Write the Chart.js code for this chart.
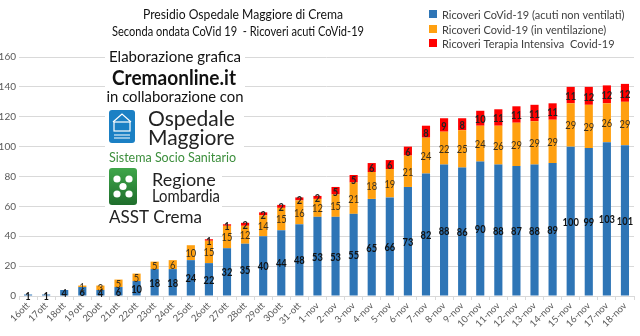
<!DOCTYPE html>
<html><head><meta charset="utf-8">
<script src="https://cdn.jsdelivr.net/npm/chart.js@4"></script>
<style>html,body{margin:0;padding:0;background:#fff}#wrap{width:640px;height:336px}</style>
</head><body><div id="wrap"><canvas id="c" width="640" height="336"></canvas></div>
<script>
const categories = ['16ott','17ott','18ott','19ott','20ott','21ott','22ott','23ott','24ott','25ott','26ott','27ott','28ott','29ott','30ott','31-ott',
  '1-nov','2-nov','3-nov','4-nov','5-nov','6-nov','7-nov','8-nov','9-nov','10-nov','11-nov','12-nov','13-nov','14-nov','15-nov','16-nov','17-nov','18-nov'];
const acutiNonVentilati = [1,1,4,6,4,6,10,18,18,24,22,32,35,40,44,48,53,53,55,65,66,73,82,88,86,90,88,87,88,89,100,99,103,101];
const inVentilazione   = [0,0,0,1,3,5,5,5,6,10,15,15,12,14,15,16,12,15,21,18,19,21,24,22,25,24,26,29,29,29,29,29,26,29];
const terapiaIntensiva = [0,0,0,0,0,0,0,0,0,0,1,1,2,2,2,2,2,5,5,6,6,6,8,9,8,10,11,11,11,11,11,12,12,12];
const yTicks = [0,20,40,60,80,100,120,140,160];
const seriesNames = ['Ricoveri CoVid-19 (acuti non ventilati)','Ricoveri Covid-19 (in ventilazione)','Ricoveri Terapia Intensiva  Covid-19'];
const titleLines = ['Presidio Ospedale Maggiore di Crema','Seconda ondata CoVid 19  - Ricoveri acuti CoVid-19'];
const creditLines = ['Elaborazione grafica','Cremaonline.it','in collaborazione con','Ospedale','Maggiore','Sistema Socio Sanitario','Regione','Lombardia','ASST Crema'];

const COLORS = ['#2e75b6','#ffa010','#ff0000'];
const F = "Lato, 'Open Sans', sans-serif";

const bgPlugin = {
  id:'bg',
  beforeDraw(chart){const c=chart.ctx;c.save();c.fillStyle='#fff';c.fillRect(0,0,chart.width,chart.height);c.restore();}
};

const labelPlugin = {
  id:'vals',
  afterDatasetsDraw(chart){
    const ctx=chart.ctx;
    ctx.save();
    ctx.textAlign='center';ctx.textBaseline='middle';
    chart.data.datasets.forEach((ds,di)=>{
      const meta=chart.getDatasetMeta(di);
      meta.data.forEach((bar,i)=>{
        const v=ds.data[i]; if(!v) return;
        const y=(bar.y+bar.base)/2;
        const s=String(v);
        if(di===0){ctx.font="bold 11px "+F;ctx.fillStyle='#111';}
        else if(di===1){ctx.font="10.5px "+F;ctx.fillStyle='#3a3020';}
        else {ctx.font="bold 12px "+F;ctx.fillStyle='#222';}
        ctx.fillText(s,bar.x,y+1,s.length*5.4);
      });
    });
    ctx.restore();
  }
};

const overlayPlugin = {
  id:'overlay',
  afterDraw(chart){
    const ctx=chart.ctx;
    ctx.save();
    // titles
    ctx.fillStyle='#111';ctx.textAlign='center';ctx.textBaseline='middle';
    ctx.font="13px "+F;
    ctx.fillText(titleLines[0],243,15,200);
    ctx.fillText(titleLines[1],238,32,252);
    // legend
    ctx.textAlign='left';ctx.font="11px "+F;
    const ly=[14,29,43];
    seriesNames.forEach((n,i)=>{
      ctx.fillStyle=COLORS[i];ctx.fillRect(429,ly[i]-4,8,8);
      ctx.fillStyle='#404040';ctx.fillText(n,442,ly[i]+1,188);
    });
    // credit block white backgrounds
    ctx.fillStyle='#fff';
    ctx.fillRect(105,47,140,58);
    ctx.fillRect(105,106,139,60);
    ctx.fillRect(105,166,117,42);
    ctx.fillRect(105,209,101,17);
    ctx.textAlign='center';
    ctx.fillStyle='#111';
    ctx.font="15px "+F;ctx.fillText(creditLines[0],175,57,135);
    ctx.font="bold 20px "+F;ctx.fillText(creditLines[1],174,79,124);
    ctx.font="15px "+F;ctx.fillText(creditLines[2],175,97,137);
    // Ospedale logo
    ctx.fillStyle='#1b80c4';
    ctx.beginPath();ctx.roundRect(109,110,26,33,3);ctx.fill();
    ctx.strokeStyle='#fff';ctx.lineWidth=1.2;
    ctx.beginPath();ctx.moveTo(113,122);ctx.lineTo(122,114);ctx.lineTo(131,122);ctx.stroke();
    ctx.strokeRect(114,122,16,9);
    ctx.beginPath();ctx.moveTo(114,135);ctx.lineTo(130,135);ctx.moveTo(114,138);ctx.lineTo(130,138);ctx.stroke();
    ctx.textAlign='left';ctx.fillStyle='#222';
    ctx.font="21px "+F;ctx.fillText(creditLines[3],148,119,92);ctx.fillText(creditLines[4],148,138,90);
    ctx.fillStyle='#3d8f3d';ctx.font="12.5px "+F;ctx.fillText(creditLines[5],109,158,128);
    // Lombardia logo
    const g=ctx.createLinearGradient(0,168,0,205);g.addColorStop(0,'#3fa64a');g.addColorStop(1,'#1f6e2c');
    ctx.fillStyle=g;ctx.beginPath();ctx.roundRect(109,168,28,37,3);ctx.fill();
    ctx.fillStyle='#fff';
    [[117,179],[129,179],[117,194],[129,194],[123,186.5]].forEach(p=>{ctx.beginPath();ctx.arc(p[0],p[1],3.6,0,Math.PI*2);ctx.fill();});
    ctx.fillStyle='#222';ctx.font="18px "+F;
    ctx.fillText(creditLines[6],152,180,68);ctx.fillText(creditLines[7],152,196,68);
    ctx.font="17px "+F;ctx.fillText(creditLines[8],109,218,94);
    ctx.restore();
  }
};

new Chart(document.getElementById('c'),{
  type:'bar',
  data:{
    labels:categories,
    datasets:[
      {label:seriesNames[0],data:acutiNonVentilati,backgroundColor:COLORS[0]},
      {label:seriesNames[1],data:inVentilazione,backgroundColor:COLORS[1]},
      {label:seriesNames[2],data:terapiaIntensiva,backgroundColor:COLORS[2]}
    ]
  },
  options:{
    responsive:false,animation:false,devicePixelRatio:1,
    layout:{padding:{top:57,right:6,left:0,bottom:0}},
    datasets:{bar:{barPercentage:0.45,categoryPercentage:1,borderWidth:0}},
    plugins:{legend:{display:false},title:{display:false},tooltip:{enabled:false}},
    scales:{
      x:{stacked:true,
        grid:{display:true,drawOnChartArea:false,offset:true,tickLength:4,color:'#d9d9d9'},
        border:{display:true,color:'#d9d9d9'},
        ticks:{autoSkip:false,minRotation:45,maxRotation:45,padding:0,color:'#595959',font:{family:F,size:9.5}},
        afterFit(s){s.height=40;s.paddingLeft=0;}
      },
      y:{stacked:true,min:0,max:160,
        afterBuildTicks(s){s.ticks=yTicks.map(v=>({value:v}));},
        grid:{color:'#d9d9d9',drawTicks:false},
        border:{display:false},
        ticks:{padding:3,color:'#595959',font:{family:F,size:10}},
        afterFit(s){s.width=19;}
      }
    }
  },
  plugins:[bgPlugin,labelPlugin,overlayPlugin]
});
</script></body></html>
